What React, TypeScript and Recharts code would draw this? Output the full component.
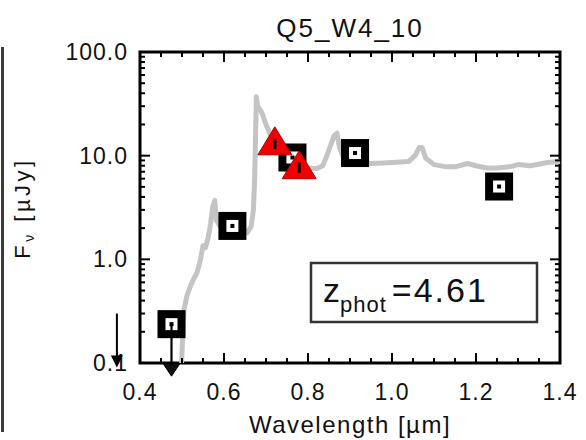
import React from 'react'
import { ComposedChart, Line, Scatter, XAxis, YAxis, ReferenceDot, ReferenceLine, ReferenceArea } from 'recharts'

// best-fit template (gray)
const sedWave = [0.499, 0.502, 0.505, 0.512, 0.52, 0.528, 0.536, 0.543, 0.55, 0.556, 0.562, 0.568, 0.573, 0.578, 0.582, 0.59, 0.6, 0.62, 0.64, 0.655, 0.665, 0.67, 0.673, 0.675, 0.677, 0.68, 0.685, 0.69, 0.7, 0.71, 0.72, 0.74, 0.76, 0.78, 0.8, 0.82, 0.835, 0.845, 0.855, 0.862, 0.869, 0.875, 0.885, 0.9, 0.92, 0.95, 0.98, 1.0, 1.02, 1.04, 1.055, 1.065, 1.072, 1.08, 1.1, 1.13, 1.15, 1.18, 1.2, 1.226, 1.25, 1.28, 1.3, 1.33, 1.37, 1.4]
const sedFlux = [0.1, 0.2, 0.33, 0.45, 0.55, 0.65, 0.75, 0.95, 1.35, 1.3, 1.6, 2.2, 3.2, 3.7, 2.4, 2.1, 2.0, 1.9, 1.8, 1.8, 2.1, 3.0, 6, 15, 37, 30, 28, 26, 20, 16, 14, 11.5, 10, 8.5, 7.6, 7.5, 8, 10, 13, 15.5, 16.5, 12, 9.5, 9, 8.6, 8.4, 8.5, 8.6, 8.7, 8.8, 10, 12, 11.9, 9.5, 8.2, 7.8, 7.8, 8.4, 8.0, 7.6, 7.6, 7.8, 8.2, 8.0, 8.6, 8.8]

// broad-band photometry (black squares)
const photWave = [0.475, 0.62, 0.763, 0.912, 1.255]
const photFlux = [0.237, 2.1, 9.6, 10.6, 5.04]
const photUpperLimit = [true, false, false, false, false]

// red triangles
const triWave = [0.721, 0.779]
const triFlux = [13.6, 8.0]

// stray limit arrow next to the axis
const strayWave = [0.345]
const strayFlux = [0.3]

const xMajor = [0.4, 0.6, 0.8, 1.0, 1.2, 1.4]
const xTickLabels = ['0.4', '0.6', '0.8', '1.0', '1.2', '1.4']
const xMinor = [0.45, 0.5, 0.55, 0.65, 0.7, 0.75, 0.85, 0.9, 0.95, 1.05, 1.1, 1.15, 1.25, 1.3, 1.35]
const yMajor = [0.1, 1, 10, 100]
const yTickLabels = ['0.1', '1.0', '10.0', '100.0']
const yMinor = [0.2, 0.3, 0.4, 0.5, 0.6, 0.7, 0.8, 0.9, 2, 3, 4, 5, 6, 7, 8, 9, 20, 30, 40, 50, 60, 70, 80, 90]

const sed = sedWave.map((x, i) => ({ x, y: sedFlux[i] }))
const phot = photWave.map((x, i) => ({ x, y: photFlux[i], lim: photUpperLimit[i] }))
const tri = triWave.map((x, i) => ({ x, y: triFlux[i] }))

const font = '"Liberation Sans", Arial, sans-serif'
const xTicks = [...xMajor, ...xMinor]
const yTicks = [...yMajor, ...yMinor]

const MINOR = 5
const MAJOR = 10
const tickLabelStyle = { fontFamily: font, fontSize: 23, fill: '#111', letterSpacing: 1 }
const tickStroke = { stroke: '#000', strokeWidth: 2 }

// vertical reference line -> short inward ticks on bottom and top, plus label
const xTickShape = (v: number) => (p: any) => {
  const x = Number(p.x1)
  const top = Math.min(Number(p.y1), Number(p.y2))
  const bot = Math.max(Number(p.y1), Number(p.y2))
  const i = xMajor.indexOf(v)
  const len = i >= 0 ? MAJOR : MINOR
  return (
    <g>
      <line x1={x} y1={bot} x2={x} y2={bot - len} {...tickStroke} />
      <line x1={x} y1={top} x2={x} y2={top + len} {...tickStroke} />
      {i >= 0 && (
        <text x={x} y={bot + 37} textAnchor="middle" {...tickLabelStyle}>
          {xTickLabels[i]}
        </text>
      )}
    </g>
  )
}

// horizontal reference line -> ticks on left and right, plus label
const yTickShape = (v: number) => (p: any) => {
  const y = Number(p.y1)
  const left = Math.min(Number(p.x1), Number(p.x2))
  const right = Math.max(Number(p.x1), Number(p.x2))
  const i = yMajor.indexOf(v)
  const len = i >= 0 ? MAJOR : MINOR
  return (
    <g>
      <line x1={left} y1={y} x2={left + len} y2={y} {...tickStroke} />
      <line x1={right} y1={y} x2={right - len} y2={y} {...tickStroke} />
      {i >= 0 && (
        <text x={left - 12} y={y + 8} textAnchor="end" {...tickLabelStyle}>
          {yTickLabels[i]}
        </text>
      )}
    </g>
  )
}

const SquareShape = (p: any) => {
  const { cx, cy, payload } = p
  return (
    <g>
      <rect x={cx - 14} y={cy - 14} width={28} height={28} fill="#000" />
      <rect x={cx - 6} y={cy - 6} width={12} height={12} fill="#fff" />
      <rect x={cx - 2} y={cy - 2} width={4} height={4} fill="#000" />
      {payload.lim && (
        <g>
          <line x1={cx} y1={cy} x2={cx} y2={cy + 42} stroke="#000" strokeWidth={2.2} />
          <polygon points={`${cx - 8},${cy + 40} ${cx + 8},${cy + 40} ${cx},${cy + 52}`} fill="#111" stroke="#000" strokeWidth={1} />
        </g>
      )}
    </g>
  )
}

const TriangleShape = (p: any) => {
  const { cx, cy } = p
  return (
    <g>
      <polygon points={`${cx},${cy - 15} ${cx + 17},${cy + 13} ${cx - 17},${cy + 13}`} fill="#f00000" stroke="#b00000" strokeWidth={1} />
      <rect x={cx - 1.5} y={cy - 3} width={3} height={10} fill="#000" />
    </g>
  )
}

const ArrowShape = (p: any) => {
  const { cx, cy } = p
  return (
    <g>
      <line x1={cx} y1={cy} x2={cx} y2={cy + 50} stroke="#000" strokeWidth={2} />
      <polygon points={`${cx - 6},${cy + 42} ${cx + 6},${cy + 42} ${cx},${cy + 54}`} fill="#000" />
    </g>
  )
}

export default function App() {
  return (
    <div style={{ position: 'absolute', left: 0, top: 0, width: 586, height: 440, background: '#fff' }}>
      <div style={{ position: 'absolute', left: 1, top: 47, width: 3, height: 385, background: '#3a3a3a' }} />
      <ComposedChart width={586} height={440} margin={{ top: 52, right: 26, bottom: 77, left: 140 }}>
        <XAxis dataKey="x" type="number" domain={[0.4, 1.4]} hide />
        <YAxis dataKey="y" type="number" scale="log" domain={[0.1, 100]} hide />
        <Line data={sed} dataKey="y" type="linear" stroke="#c4c4c4" strokeWidth={5}
          strokeLinejoin="round" dot={false} isAnimationActive={false} />
        <Scatter data={phot} shape={SquareShape} isAnimationActive={false} />
        <Scatter data={tri} shape={TriangleShape} isAnimationActive={false} />
        <ReferenceArea x1={0.4} x2={1.4} y1={0.1} y2={100} fill="none" fillOpacity={0} stroke="#000" strokeWidth={3} />
        {xTicks.map(v => (
          <ReferenceLine key={'x' + v} x={v} stroke="none" shape={xTickShape(v)} />
        ))}
        {yTicks.map(v => (
          <ReferenceLine key={'y' + v} y={v} stroke="none" shape={yTickShape(v)} />
        ))}
        <ReferenceDot x={strayWave[0]} y={strayFlux[0]} ifOverflow="visible" shape={ArrowShape} />
      </ComposedChart>
      <svg width={586} height={440} style={{ position: 'absolute', left: 0, top: 0, pointerEvents: 'none' }}>
        <text x={350} y={37} textAnchor="middle" fontFamily={font} fontSize={26} letterSpacing={2} fill="#111">Q5_W4_10</text>
        <text transform="translate(30,208) rotate(-90)" textAnchor="middle" fontFamily={font} fontSize={22} letterSpacing={3.5} fill="#111">
          F<tspan fontSize={14} dy={4}>ν</tspan><tspan dy={-4}> [µJy]</tspan>
        </text>
        <text x={350} y={433} textAnchor="middle" fontFamily={font} fontSize={24} letterSpacing={1.5} fill="#111">Wavelength [µm]</text>
        <rect x={311} y={263} width={226} height={59} fill="#fff" stroke="#333" strokeWidth={2.5} />
        <text x={323} y={302} fontFamily={font} fontSize={34} fill="#111">
          z<tspan fontSize={22} dy={10} letterSpacing={1}>phot</tspan><tspan dy={-10} dx={5} letterSpacing={2}>=4.61</tspan>
        </text>
      </svg>
    </div>
  )
}
